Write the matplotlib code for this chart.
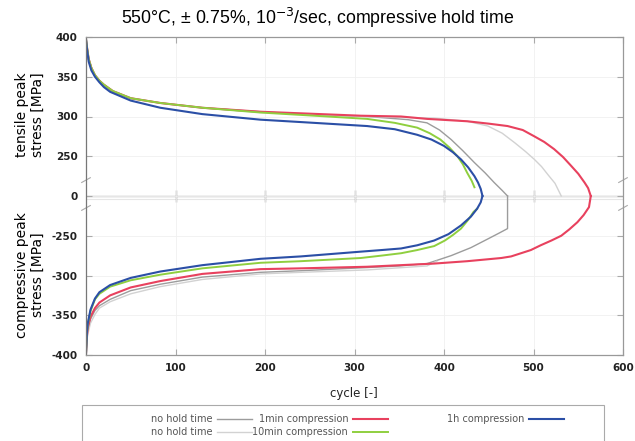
import numpy as np
import matplotlib
matplotlib.use("Agg")
import matplotlib.pyplot as plt
from matplotlib.patches import Rectangle

# tensile (upper) and compressive (lower) peak stress vs cycle, values in MPa
gray_up_x = [0, 1, 3, 6, 10, 15, 20, 30, 50, 83, 130, 195, 240, 314, 360, 381, 395, 408, 421, 434, 446, 456, 465, 471]
gray_up_y = [397, 388, 374, 362, 352, 345, 339, 331, 323, 317, 311, 306, 303, 300, 296, 292, 283, 271, 257, 242, 229, 217, 207, 0]
gray_lo_x = [471, 471, 461, 449, 430, 408, 392, 381, 350, 314, 277, 240, 195, 130, 83, 50, 27, 15, 10, 5, 2, 1, 0]
gray_lo_y = [0, -241, -247, -254, -265, -275, -281, -285, -288, -290, -292, -294, -296, -302, -311, -319, -330, -338, -344, -355, -368, -378, -398]

lgray_up_x = [0, 1, 3, 6, 10, 15, 20, 30, 50, 83, 130, 195, 240, 314, 389, 426, 449, 465, 479, 491, 501, 509, 516, 524, 531]
lgray_up_y = [397, 388, 374, 362, 352, 345, 340, 332, 323, 317, 311, 305, 303, 300, 298, 294, 288, 279, 267, 256, 246, 237, 227, 216, 0]
lgray_lo_x = [0, 1, 2, 5, 10, 15, 27, 50, 83, 130, 195, 240, 314, 381, 392]
lgray_lo_y = [-398, -382, -374, -360, -349, -341, -333, -323, -314, -305, -298, -296, -293, -288, -282]

red_up_x = [0, 1, 3, 6, 10, 15, 20, 30, 50, 83, 130, 195, 240, 307, 352, 381, 426, 450, 471, 488, 501,
            512, 523, 533, 542, 550, 557, 561, 564]
red_up_y = [397, 388, 372, 361, 352, 345, 340, 332, 323, 317, 311, 306, 304, 301, 300, 297, 294, 291, 288, 283, 275,
            268, 259, 249, 238, 228, 217, 210, 0]
red_lo_x = [564, 562, 556, 549, 540, 531, 520, 508, 497, 486, 475, 464, 445, 426, 389, 314, 240, 195, 130, 83, 50,
            27, 15, 10, 5, 2, 1, 0]
red_lo_y = [0, -214, -224, -233, -242, -250, -256, -262, -268, -272, -276, -278, -280, -282, -285, -289, -291, -292,
            -298, -307, -315, -325, -334, -341, -352, -366, -377, -398]

green_up_x = [0, 1, 3, 6, 10, 15, 20, 30, 50, 83, 130, 195, 240, 314, 345, 370, 384, 396, 406, 415, 421, 426, 431, 434]
green_up_y = [397, 388, 372, 361, 352, 345, 340, 332, 323, 317, 311, 305, 302, 297, 292, 286, 279, 271, 261, 250, 240, 229, 219, 211]
green_lo_x = [437, 433, 427, 419, 410, 401, 389, 370, 352, 330, 307, 240, 195, 130, 83, 50, 27, 15, 10, 5, 2, 1, 0]
green_lo_y = [-216, -220, -230, -241, -249, -256, -263, -268, -272, -275, -278, -282, -284, -291, -299, -306, -314, -323, -330, -345, -362, -374, -398]

blue_up_x = [0, 1, 3, 6, 10, 15, 20, 27, 50, 83, 130, 195, 240, 314, 345, 370, 386, 400, 410, 419, 427, 434, 438, 441, 443]
blue_up_y = [397, 386, 369, 358, 350, 343, 337, 331, 320, 311, 303, 296, 293, 288, 284, 277, 271, 263, 255, 246, 236, 225, 217, 209, 0]
blue_lo_x = [443, 441, 437, 430, 419, 405, 389, 370, 352, 330, 307, 240, 195, 130, 83, 50, 27, 15, 10, 5, 2, 1, 0]
blue_lo_y = [0, -208, -216, -226, -237, -248, -256, -262, -266, -268, -270, -276, -279, -287, -295, -303, -312, -321, -329, -343, -360, -372, -398]

ytick_vals = [400, 350, 300, 250, 0, -250, -300, -350, -400]
labels = ["no hold time", "no hold time", "1min compression", "10min compression", "1h compression"]


def brk(v):
    # broken axis: 200..400 -> 0..200, -200..-400 -> 0..-200
    v = np.asarray(v, dtype=float)
    return np.where(v > 0, np.maximum(v - 200, 0), np.where(v < 0, np.minimum(v + 200, 0), 0))


fig = plt.figure(figsize=(6.35, 4.41), dpi=100)
ax = fig.add_axes([86 / 635, 1 - 355 / 441, (623 - 86) / 635, (355 - 37) / 441])

ax.set_xlim(0, 600)
ax.set_ylim(-200, 200)
ax.set_xticks(range(0, 601, 100))
ax.set_yticks(brk(ytick_vals))
ax.set_yticklabels([str(v) for v in ytick_vals])
ax.tick_params(direction="in", length=4, color="#aaaaaa", labelsize=7.5,
               top=True, right=True, pad=6)
for lab in ax.get_xticklabels() + ax.get_yticklabels():
    lab.set_fontweight("bold")
    lab.set_color("#222222")
ax.grid(color="#f0f0f0", lw=0.6)
for s in ax.spines.values():
    s.set_color("#999999")
    s.set_linewidth(0.9)
ax.spines["left"].set_color("#777777")

# zero line (double) with ticks
ax.axhline(0, color="#b5b5b5", lw=1.0, zorder=1)
ax.axhline(-4, color="#e6e6e6", lw=0.8, zorder=1)
ax.plot(range(100, 600, 100), [0] * 5, ls="none", marker="|", ms=8, color="#999999", zorder=1)

# break marks on both spines
for xa in (0, 1):
    for yb in (20, -15):
        ax.plot([xa - 0.008, xa + 0.008], [yb - 3, yb + 3], color="#aaaaaa", lw=0.8,
                transform=ax.get_yaxis_transform(), clip_on=False)

series = [
    (gray_up_x, gray_up_y, gray_lo_x, gray_lo_y, "#9c9c9c", 1.0),
    (lgray_up_x, lgray_up_y, lgray_lo_x, lgray_lo_y, "#d2d2d2", 1.0),
    (red_up_x, red_up_y, red_lo_x, red_lo_y, "#e8415e", 1.5),
    (green_up_x, green_up_y, green_lo_x, green_lo_y, "#8fcf3f", 1.4),
    (blue_up_x, blue_up_y, blue_lo_x, blue_lo_y, "#2b4fa6", 1.5),
]
handles = []
for ux, uy, lx, ly, col, lw in series:
    h, = ax.plot(ux, brk(uy), color=col, lw=lw)
    ax.plot(lx, brk(ly), color=col, lw=lw)
    handles.append(h)

# legend: three right-aligned columns inside one frame
fig.patches.append(Rectangle((82 / 635, -0.02), 522 / 635, 1 - 405 / 441 + 0.02, transform=fig.transFigure,
                             fill=False, edgecolor="#aaaaaa", lw=0.8))
cols = [(handles[0:2], labels[0:2], 252), (handles[2:4], labels[2:4], 388), (handles[4:5], labels[4:5], 564)]
for hs, ls, xr in cols:
    leg = fig.legend(hs, ls, loc="upper right", bbox_to_anchor=(xr / 635, 1 - 414 / 441),
                     markerfirst=False, fontsize=7, frameon=False, handlelength=3.6,
                     handletextpad=0.5, borderpad=0, borderaxespad=0, labelspacing=0.35)
    for t in leg.get_texts():
        t.set_color("#555555")

fig.text(0.5, 1 - 18 / 441, "550°C, ± 0.75%, 10$^{-3}$/sec, compressive hold time",
         ha="center", va="center", fontsize=12.8, family="Liberation Sans")
fig.text(354 / 635, 1 - 393 / 441, "cycle [-]", ha="center", va="center", fontsize=8.5, color="#222222")
fig.text(30 / 635, 1 - 115 / 441, "tensile peak\nstress [MPa]", ha="center", va="center",
         rotation=90, fontsize=10, linespacing=1.1)
fig.text(30 / 635, 1 - 275 / 441, "compressive peak\nstress [MPa]", ha="center", va="center",
         rotation=90, fontsize=10, linespacing=1.1)

fig.savefig("out.png", dpi=100)
